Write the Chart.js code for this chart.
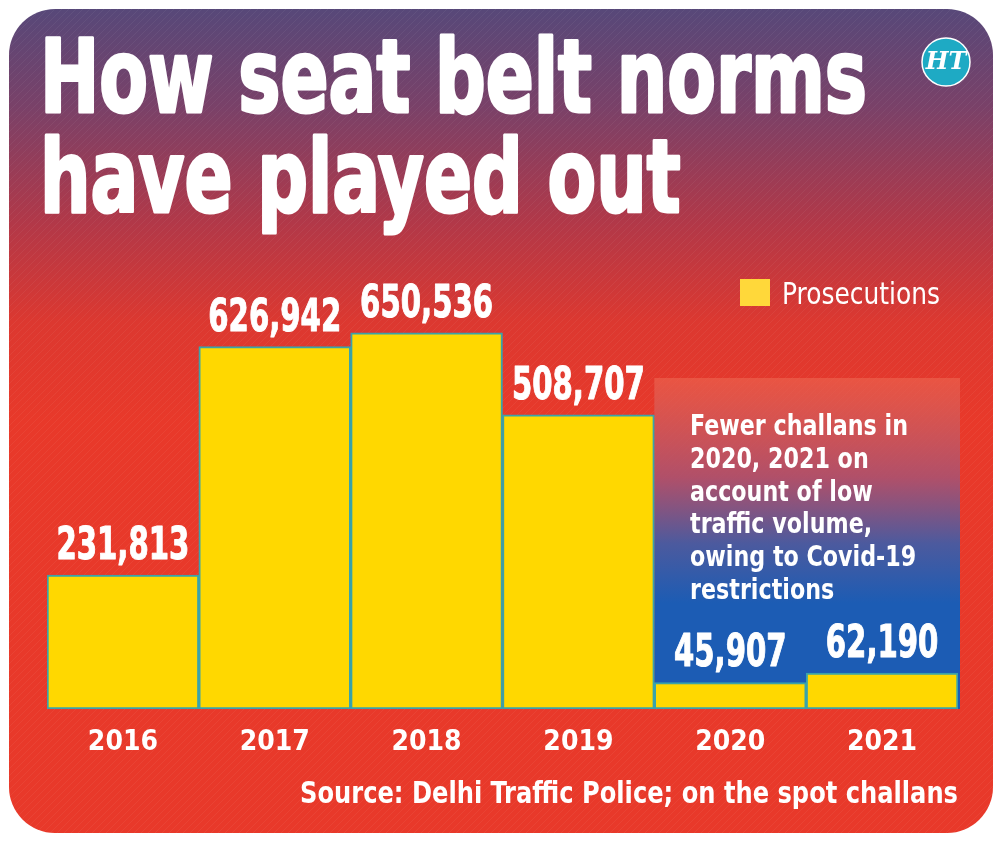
<!DOCTYPE html>
<html lang="en">
<head>
    <meta charset="UTF-8">
    <title>How seat belt norms have played out</title>
    <script src="https://cdn.jsdelivr.net/npm/chart.js"></script>
    <style>
        body { margin: 0; background: #fff; }
        canvas { display: block; }
    </style>
</head>
<body>

<canvas id="beltChart" width="1000" height="845"></canvas>

<script>
    const years = ['2016', '2017', '2018', '2019', '2020', '2021'];
    const prosecutions = [231813, 626942, 650536, 508707, 45907, 62190];
    const titleLines = ['How seat belt norms', 'have played out'];
    const noteLines = ['Fewer challans in', '2020, 2021 on', 'account of low', 'traffic volume,', 'owing to Covid-19', 'restrictions'];
    const sourceText = 'Source: Delhi Traffic Police; on the spot challans';

    const FONT = '"DejaVu Sans Condensed", "Liberation Sans Narrow", sans-serif';
    const YELLOW = '#ffd800';

    // draw text squeezed/stretched horizontally to a target width
    function fitText(ctx, text, x, y, font, width, align, bold) {
        ctx.save();
        ctx.font = font;
        const natural = ctx.measureText(text).width;
        const s = width / natural;
        let left = x;
        if (align === 'right') left = x - width;
        if (align === 'center') left = x - width / 2;
        ctx.translate(left, y);
        ctx.scale(s, 1);
        ctx.textAlign = 'left';
        ctx.textBaseline = 'alphabetic';
        if (bold) {
            ctx.strokeStyle = ctx.fillStyle;
            ctx.lineWidth = bold;
            ctx.lineJoin = 'round';
            ctx.strokeText(text, 0, 0);
        }
        ctx.fillText(text, 0, 0);
        ctx.restore();
    }

    function roundRect(ctx, x, y, w, h, r) {
        ctx.beginPath();
        ctx.moveTo(x + r, y);
        ctx.arcTo(x + w, y, x + w, y + h, r);
        ctx.arcTo(x + w, y + h, x, y + h, r);
        ctx.arcTo(x, y + h, x, y, r);
        ctx.arcTo(x, y, x + w, y, r);
        ctx.closePath();
    }

    const backdrop = {
        id: 'backdrop',
        beforeDraw(chart) {
            const ctx = chart.ctx;
            ctx.save();
            ctx.fillStyle = '#ffffff';
            ctx.fillRect(0, 0, chart.width, chart.height);

            // card
            const g = ctx.createLinearGradient(0, 9, 0, 833);
            g.addColorStop(0, '#574879');
            g.addColorStop(0.12, '#7a4168');
            g.addColorStop(0.26, '#b23848');
            g.addColorStop(0.38, '#dc3830');
            g.addColorStop(0.5, '#e8392a');
            g.addColorStop(1, '#e8392a');
            roundRect(ctx, 9, 9, 984, 824, 46);
            ctx.fillStyle = g;
            ctx.fill();

            // faint stripes
            ctx.save();
            ctx.clip();
            ctx.strokeStyle = 'rgba(255,255,255,0.05)';
            ctx.lineWidth = 1;
            for (let k = -900; k < 1000; k += 7) {
                ctx.beginPath();
                ctx.moveTo(k, 845);
                ctx.lineTo(k + 845, 0);
                ctx.stroke();
            }
            ctx.restore();

            // annotation panel behind the 2020/2021 bars
            const x = chart.scales.x;
            const left = x.getPixelForValue(4) - (x.getPixelForValue(1) - x.getPixelForValue(0)) / 2;
            const pg = ctx.createLinearGradient(0, 378, 0, chart.chartArea.bottom);
            pg.addColorStop(0, 'rgba(236,96,76,0.7)');
            pg.addColorStop(0.3, 'rgba(170,82,112,0.9)');
            pg.addColorStop(0.5, '#4c5a9e');
            pg.addColorStop(0.68, '#1c5cb4');
            pg.addColorStop(1, '#1c5cb4');
            ctx.fillStyle = pg;
            ctx.fillRect(left, 378, 960 - left, chart.chartArea.bottom - 378);

            // title
            ctx.fillStyle = '#ffffff';
            const tf = 'bold 101px ' + FONT;
            ctx.font = tf;
            const s = 827 / ctx.measureText(titleLines[0]).width;
            fitText(ctx, titleLines[0], 40, 112, tf, ctx.measureText(titleLines[0]).width * s, 'left', 3);
            fitText(ctx, titleLines[1], 40, 212, tf, ctx.measureText(titleLines[1]).width * s, 'left', 3);

            // HT logo
            ctx.beginPath();
            ctx.arc(946, 62, 24, 0, Math.PI * 2);
            ctx.fillStyle = '#1eaac4';
            ctx.fill();
            ctx.strokeStyle = '#ffffff';
            ctx.lineWidth = 1.5;
            ctx.stroke();
            ctx.fillStyle = '#ffffff';
            ctx.font = 'bold italic 24px "DejaVu Serif", serif';
            ctx.textAlign = 'center';
            ctx.textBaseline = 'middle';
            ctx.fillText('HT', 946, 63);
            ctx.restore();
        },
        afterDatasetsDraw(chart) {
            const ctx = chart.ctx;
            const meta = chart.getDatasetMeta(0);
            ctx.save();
            ctx.fillStyle = '#ffffff';

            // value labels, squeezed like the condensed face of the original
            const vf = 'bold 44px ' + FONT;
            ctx.font = vf;
            const vs = 133 / ctx.measureText('626,942').width;
            meta.data.forEach((bar, i) => {
                const txt = prosecutions[i].toLocaleString('en-US');
                fitText(ctx, txt, bar.x, bar.y - 16, vf, ctx.measureText(txt).width * vs, 'center', 1);
            });

            // legend
            ctx.fillStyle = '#ffd83a';
            ctx.fillRect(740, 279, 30, 27);
            ctx.fillStyle = '#ffffff';
            fitText(ctx, chart.data.datasets[0].label, 782, 304, '30px ' + FONT, 158);

            // note
            const nf = 'bold 28px ' + FONT;
            ctx.font = nf;
            const ns = 218 / ctx.measureText(noteLines[0]).width;
            noteLines.forEach((line, i) => {
                fitText(ctx, line, 690, 435 + i * 32.8, nf, ctx.measureText(line).width * ns);
            });

            // source
            fitText(ctx, sourceText, 958, 803, 'bold 31px ' + FONT, 658, 'right');
            ctx.restore();
        }
    };

    const ctx = document.getElementById('beltChart').getContext('2d');
    const beltChart = new Chart(ctx, {
        type: 'bar',
        data: {
            labels: years,
            datasets: [{
                label: 'Prosecutions',
                data: prosecutions,
                backgroundColor: YELLOW,
                borderColor: '#3aa3aa',
                borderWidth: 2,
                borderSkipped: false,
                categoryPercentage: 1,
                barPercentage: 1
            }]
        },
        options: {
            responsive: false,
            animation: false,
            layout: {
                padding: { left: 47, right: 42, top: 250, bottom: 76 }
            },
            scales: {
                x: {
                    grid: { display: false },
                    border: { display: false },
                    ticks: {
                        color: '#ffffff',
                        padding: 9,
                        font: { family: FONT, size: 28, weight: 'bold' }
                    },
                    afterFit(scale) { scale.height = 60; }
                },
                y: {
                    display: false,
                    min: 0,
                    max: 794000
                }
            },
            plugins: {
                legend: { display: false },
                tooltip: { enabled: false }
            }
        },
        plugins: [backdrop]
    });
</script>

</body>
</html>
